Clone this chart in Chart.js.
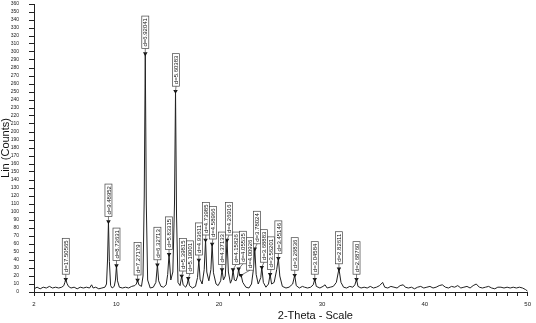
<!DOCTYPE html>
<html>
<head>
<meta charset="utf-8">
<script src="https://cdn.jsdelivr.net/npm/chart.js@4.4.0/dist/chart.umd.min.js"></script>
<style>
html, body { margin: 0; padding: 0; background: #fff; }
</style>
</head>
<body>
<canvas id="xrdCanvas" width="536" height="323"></canvas>
<script>
// measured profile (2-theta in degrees, intensity in counts)
var twoTheta = [
  2.0, 2.3, 2.6, 2.9, 3.2, 3.5, 3.8, 4.1, 4.4, 4.7, 4.9, 5.0, 5.09, 5.2, 5.35, 5.6, 5.9, 6.2, 6.5, 6.8,
  7.1, 7.4, 7.6, 7.75, 8.0, 8.3, 8.6, 8.9, 9.05, 9.15, 9.24, 9.33, 9.45, 9.6, 9.8, 9.92, 10.02, 10.12, 10.3, 10.6,
  10.9, 11.2, 11.5, 11.8, 11.95, 12.07, 12.2, 12.45, 12.6, 12.72, 12.82, 12.92, 13.05, 13.3, 13.6, 13.85, 14.0, 14.12, 14.35, 14.6,
  14.85, 15.0, 15.13, 15.3, 15.5, 15.66, 15.76, 15.86, 16.0, 16.2, 16.36, 16.5, 16.75, 16.9, 17.0, 17.12, 17.4, 17.7, 17.9, 18.03,
  18.15, 18.35, 18.55, 18.68, 18.8, 19.0, 19.2, 19.32, 19.45, 19.7, 19.9, 20.15, 20.28, 20.42, 20.6, 20.77, 20.9, 21.1, 21.25, 21.35,
  21.48, 21.65, 21.8, 21.9, 22.0, 22.14, 22.3, 22.6, 22.9, 23.15, 23.35, 23.47, 23.6, 23.8, 24.05, 24.15, 24.3, 24.55, 24.8, 24.96,
  25.1, 25.35, 25.6, 25.76, 25.9, 26.15, 26.5, 26.8, 27.15, 27.35, 27.5, 27.8, 28.1, 28.3, 28.6, 28.9, 29.15, 29.3, 29.45, 29.8,
  30.1, 30.3, 30.5, 30.8, 31.1, 31.4, 31.65, 31.85, 32.1, 32.4, 32.7, 33.0, 33.2, 33.36, 33.5, 33.8, 34.1, 34.4, 34.7, 35.0,
  35.3, 35.6, 35.9, 36.1, 36.4, 36.7, 37.0, 37.3, 37.6, 37.9, 38.1, 38.4, 38.7, 39.0, 39.3, 39.6, 39.9, 40.2, 40.5, 40.8,
  41.1, 41.4, 41.7, 42.0, 42.3, 42.6, 42.9, 43.2, 43.5, 43.8, 44.1, 44.4, 44.7, 45.0, 45.3, 45.6, 45.9, 46.2, 46.5, 46.8,
  47.1, 47.4, 47.7, 48.0, 48.3, 48.6, 48.9, 49.2, 49.5, 49.8, 50.0
];
var counts = [
  4, 6, 4, 6, 5, 7, 5, 6, 5, 6, 8, 12, 16, 11, 7, 5, 6, 4, 6, 5,
  6, 5, 9, 5, 6, 4, 5, 6, 10, 40, 88, 38, 8, 5, 7, 15, 33, 14, 6, 5,
  6, 5, 7, 8, 10, 15, 9, 7, 20, 120, 298, 110, 15, 5, 6, 12, 34, 14, 7, 6,
  9, 22, 47, 15, 25, 110, 251, 95, 12, 8, 20, 9, 6, 10, 17, 8, 5, 7, 18, 40,
  16, 10, 28, 65, 25, 14, 28, 60, 24, 10, 8, 14, 28, 15, 20, 65, 25, 11, 16, 28,
  15, 14, 20, 29, 20, 21, 12, 6, 5, 10, 30, 54, 22, 10, 18, 31, 12, 6, 10, 22,
  10, 12, 28, 42, 20, 7, 5, 6, 10, 21, 8, 5, 7, 6, 5, 6, 9, 16, 7, 5,
  7, 9, 5, 6, 7, 12, 29, 12, 6, 5, 7, 6, 9, 16, 7, 5, 6, 5, 7, 5,
  6, 8, 12, 6, 5, 7, 6, 5, 8, 9, 6, 5, 6, 4, 6, 7, 5, 6, 7, 5,
  6, 8, 9, 6, 5, 7, 6, 8, 5, 6, 7, 5, 8, 10, 6, 5, 6, 7, 5, 4,
  6, 6, 5, 6, 5, 6, 5, 6, 5, 3, 1
];

// identified peaks
var peakTheta = [5.09, 9.24, 10.02, 12.07, 12.82, 14.0, 15.13, 15.76, 16.36, 17.0, 18.03, 18.68, 19.32,
  20.28, 20.77, 21.35, 21.9, 22.14, 23.47, 24.15, 24.96, 25.76, 27.35, 29.3, 31.65, 33.36];
var peakCounts = [16, 88, 33, 15, 298, 34, 47, 251, 20, 17, 40, 65, 60,
  28, 65, 28, 29, 21, 54, 31, 22, 42, 21, 16, 29, 16];
var peakLabels = ['d=17.50565', 'd=9.48952', 'd=8.73631', 'd=7.27179', 'd=6.92041', 'd=6.32713',
  'd=5.83315', 'd=5.60383', 'd=5.39815', 'd=5.19001', 'd=4.93611', 'd=4.73985', 'd=4.58966',
  'd=4.37133', 'd=4.26916', 'd=4.15826', 'd=4.05535', 'd=4.00926', 'd=3.78024', 'd=3.68883',
  'd=3.56201', 'd=3.45146', 'd=3.26836', 'd=3.04584', 'd=2.82611', 'd=2.68760'];

var xLabelled = [2, 10, 20, 30, 40, 50];
var yMax = 360;

var fontFamily = '"Liberation Sans", Arial, sans-serif';

var profile = twoTheta.map(function (t, i) { return { x: t, y: counts[i] }; });
var peaks = peakTheta.map(function (t, i) { return { x: t, y: peakCounts[i] }; });

var peakLabelPlugin = {
    id: 'peakLabels',
    afterDatasetsDraw: function (chart) {
        var ctx = chart.ctx;
        var xs = chart.scales.x, ys = chart.scales.y;
        ctx.save();
        ctx.font = '6px ' + fontFamily;
        var prevX = -100;
        for (var i = 0; i < peakLabels.length; i++) {
            var px = xs.getPixelForValue(peakTheta[i]);
            var py = ys.getPixelForValue(peakCounts[i]);
            var bx = Math.max(px, prevX + 7);
            prevX = bx;
            var tw = ctx.measureText(peakLabels[i]).width;
            var bottom = py - 5;
            var len = tw + 4;
            ctx.fillStyle = '#fff';
            ctx.fillRect(bx - 3.5, bottom - len, 7, len);
            ctx.strokeStyle = '#444';
            ctx.lineWidth = 0.7;
            ctx.strokeRect(bx - 3.5, bottom - len, 7, len);
            ctx.beginPath();
            ctx.moveTo(bx, bottom);
            ctx.lineTo(px, py);
            ctx.stroke();
            ctx.save();
            ctx.translate(bx + 2.2, bottom - 2);
            ctx.rotate(-Math.PI / 2);
            ctx.fillStyle = '#111';
            ctx.fillText(peakLabels[i], 0, 0);
            ctx.restore();
        }
        ctx.restore();
    },
    afterDraw: function (chart) {
        var ctx = chart.ctx, area = chart.chartArea;
        ctx.save();
        ctx.font = '11px ' + fontFamily;
        ctx.fillStyle = '#111';
        ctx.textAlign = 'center';
        ctx.textBaseline = 'middle';
        ctx.fillText('2-Theta - Scale', area.left + (area.right - area.left) * 0.57, 316);
        ctx.restore();
    }
};

new Chart(document.getElementById('xrdCanvas'), {
    type: 'line',
    data: {
        datasets: [{
            data: peaks,
            showLine: false,
            pointStyle: 'triangle',
            rotation: 180,
            pointRadius: 2.6,
            pointBackgroundColor: '#111',
            pointBorderColor: '#111',
            pointBorderWidth: 0
        }, {
            data: profile,
            borderColor: '#222',
            borderWidth: 1,
            pointRadius: 0,
            tension: 0,
            fill: false
        }]
    },
    options: {
        responsive: false,
        animation: false,
        events: [],
        layout: { padding: { top: 3, right: 5, left: 0, bottom: 0 } },
        plugins: { legend: { display: false }, tooltip: { enabled: false } },
        scales: {
            x: {
                type: 'linear',
                min: 2,
                max: 50,
                afterFit: function (scale) { scale.height = 31; },
                border: { display: true, color: '#222', width: 1 },
                grid: { drawOnChartArea: false, drawTicks: true, tickLength: 4, color: '#222' },
                ticks: {
                    stepSize: 1,
                    autoSkip: false,
                    maxRotation: 0,
                    padding: 5,
                    color: '#222',
                    font: { family: fontFamily, size: 6 },
                    callback: function (v) { return xLabelled.indexOf(v) >= 0 ? String(v) : ''; }
                }
            },
            y: {
                min: 0,
                max: yMax,
                afterFit: function (scale) {
                    scale.width = 34;
                    scale.paddingTop = 3;
                    scale.paddingBottom = 3;
                },
                border: { display: true, color: '#222', width: 1 },
                grid: { drawOnChartArea: false, drawTicks: true, tickLength: 5, color: '#222' },
                ticks: {
                    stepSize: 10,
                    autoSkip: false,
                    padding: 10,
                    color: '#222',
                    font: { family: fontFamily, size: 5 }
                },
                title: {
                    display: true,
                    text: 'Lin (Counts)',
                    color: '#111',
                    padding: { top: 0, bottom: 0 },
                    font: { family: fontFamily, size: 11, lineHeight: 1 }
                }
            }
        }
    },
    plugins: [peakLabelPlugin]
});
</script>
</body>
</html>
